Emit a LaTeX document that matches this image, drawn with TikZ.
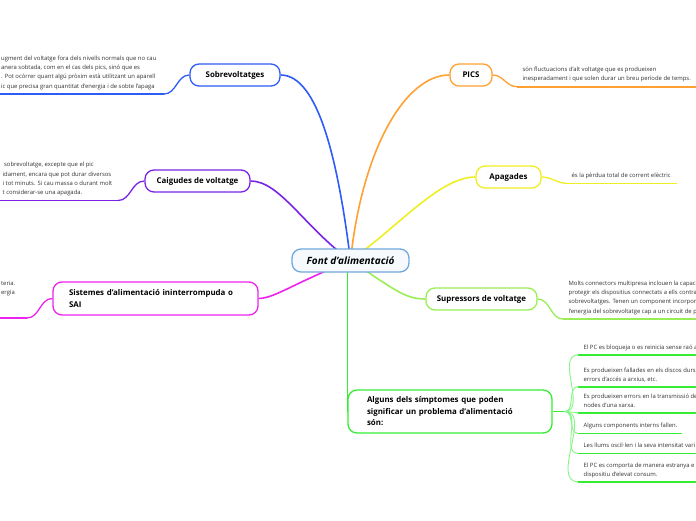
\documentclass[tikz,border=0pt]{standalone}
\usepackage{fontspec}
\setmainfont{Open Sans}
\usetikzlibrary{positioning, backgrounds}
\definecolor{colorArrel}{HTML}{6FA8DC}
\definecolor{fonsArrel}{HTML}{F6FAFE}
\definecolor{colorSobre}{HTML}{2E5CF6}
\definecolor{colorCaig}{HTML}{7A22E6}
\definecolor{colorSai}{HTML}{EE22EE}
\definecolor{colorPics}{HTML}{FFA033}
\definecolor{colorApag}{HTML}{EEEE22}
\definecolor{colorSupr}{HTML}{99EE55}
\definecolor{colorSimp}{HTML}{33EE33}
\definecolor{textNota}{HTML}{333333}

\begin{document}
\begin{tikzpicture}[x=1pt, y=-1pt, line width=1.3pt,
        arrel/.style={draw=colorArrel, fill=fonsArrel, rounded corners=9pt,
            minimum width=117pt, minimum height=23pt,
            font=\bfseries\itshape\fontsize{10}{12}\selectfont},
        tema/.style={fill=white, rounded corners=9pt, minimum height=22pt, inner xsep=5pt,
            font=\bfseries\fontsize{7.9}{11.5}\selectfont},
        nota/.style={inner sep=0pt, align=left, text=textNota,
            font=\fontsize{5.9}{9.2}\selectfont, execute at end node=\strut},
        br/.style={line width=1.6pt},
        ratlla/.style={line width=1.6pt},
        brot/.style={colorSimp!60, line width=0.9pt}]
        \path[use as bounding box, clip] (0,0) rectangle (696,520);
        % nodes
        \node[arrel] (font) at (350.5,260.5) {Font d'alimentació};
        \node[tema, draw=colorSobre, minimum width=90pt] (sobre) at (235,75) {Sobrevoltatges};
        \node[tema, draw=colorCaig, minimum width=105pt] (caig) at (197.5,181) {Caigudes de voltatge};
        \node[tema, draw=colorSai, minimum height=33pt, text width=173pt, inner xsep=16pt, align=left]
            (sai) at (155.5,298.5) {Sistemes d'alimentació ininterrompuda o\\SAI};
        \node[tema, draw=colorPics, minimum width=42pt] (pics) at (471,75) {PICS};
        \node[tema, draw=colorApag, minimum width=65pt] (apag) at (508.5,177) {Apagades};
        \node[tema, draw=colorSupr, minimum width=111pt] (supr) at (481.5,299) {Supressors de voltatge};
        \node[tema, draw=colorSimp, minimum height=43pt, text width=166pt, inner xsep=19pt, align=left]
            (simp) at (450,411.5) {Alguns dels símptomes que poden\\significar un problema d'alimentació\\són:};
        % branques
        \begin{scope}[on background layer]
            \draw[br, colorSobre] (font.center) .. controls (338,160) and (318,75) .. (sobre.east);
            \draw[br, colorCaig] (font.center) .. controls (305,228) and (280,181) .. (caig.east);
            \draw[br, colorPics] (font.center) .. controls (362,150) and (405,75) .. (pics.west);
            \draw[br, colorApag] (font.center) .. controls (400,225) and (440,177) .. (apag.west);
            \draw[br, colorSai] (font.center) .. controls (290,285) and (275,298) .. (sai.east);
            \draw[br, colorSupr] (font.center) .. controls (395,290) and (405,299) .. (supr.west);
            \draw[br, colorSimp] (simp.west |- font.center) -- (simp.west);
        \end{scope}
        % notes esquerra
        \coordinate (uSobre) at (164,94);
        \draw[colorSobre] (sobre.west) to[out=180,in=0] (uSobre);
        \draw[colorSobre, ratlla] (uSobre) -- ++(-170,0);
        \node[nota, anchor=south west] (tSobre) at (0.5,91.5) {ugment del voltatge fora dels nivells normals que no cau\\anera sobtada, com en el cas dels pics, sinó que es\\. Pot ocórrer quant algú pròxim està utilitzant un aparell\\ic que precisa gran quantitat d'energia i de sobte l'apaga};
        \coordinate (uCaig) at (118,200.5);
        \draw[colorCaig] (caig.west) to[out=180,in=0] (uCaig);
        \draw[colorCaig, ratlla] (uCaig) -- ++(-125,0);
        \node[nota, anchor=south west] (tCaig) at (2,198) {\ sobrevoltatge, excepte que el pic\\idament, encara que pot durar diversos\\i tot minuts. Si cau massa o durant molt\\t considerar-se una apagada.};
        \coordinate (uSai) at (27,318);
        \draw[colorSai] (sai.west) to[out=180,in=0] (uSai);
        \draw[colorSai, ratlla] (uSai) -- ++(-35,0);
        \node[nota, anchor=south west] (tSai) at (0.5,298.3) {teria.\\ergia};
        % notes dreta
        \coordinate (uPics) at (517,86.7);
        \draw[colorPics] (pics.east) to[out=0,in=180] (uPics);
        \draw[colorPics, ratlla] (uPics) -- ++(185,0);
        \node[nota, above right=3pt and 5pt of uPics] (tPics) {són fluctuacions d'alt voltatge que es produeixen\\inesperadament i que solen durar un breu període de temps.};
        \coordinate (uApag) at (567,183.3);
        \draw[colorApag] (apag.east) to[out=0,in=180] (uApag);
        \draw[colorApag, ratlla] (uApag) -- ++(110,0);
        \node[nota, above right=2.5pt and 4pt of uApag] (tApag) {és la pèrdua total de corrent elèctric};
        \coordinate (uSupr) at (563,319);
        \draw[colorSupr] (supr.east) to[out=0,in=180] (uSupr);
        \draw[colorSupr, ratlla] (uSupr) -- ++(140,0);
        \node[nota, above right=2.5pt and 5pt of uSupr] (tSupr) {Molts connectors multipresa inclouen la capac\\protegir els dispositius connectats a ells contra\\sobrevoltatges. Tenen un component incorpor\\l'energia del sobrevoltatge cap a un circuit de p};
        % símptomes
        \coordinate[right=12pt of simp] (nSimp);
        \coordinate (s1) at (578,355); \coordinate (s2) at (578,386.7); \coordinate (s3) at (578,412.7);
        \coordinate (s4) at (578,433.3); \coordinate (s5) at (578,453.3); \coordinate (s6) at (578,481.7);
        \draw[colorSimp] (simp.east) -- (nSimp);
        \draw[brot] (nSimp) to[out=0,in=180] (s1); \draw[brot] (nSimp) to[out=0,in=180] (s2);
        \draw[brot] (nSimp) to[out=0,in=180] (s3); \draw[brot] (nSimp) to[out=0,in=180] (s4);
        \draw[brot] (nSimp) to[out=0,in=180] (s5); \draw[brot] (nSimp) to[out=0,in=180] (s6);
        \draw[colorSimp, ratlla] (s1) -- ++(125,0); \draw[colorSimp, ratlla] (s2) -- ++(125,0);
        \draw[colorSimp, ratlla] (s3) -- ++(125,0); \draw[colorSimp, ratlla] (s4) -- ++(104,0);
        \draw[colorSimp, ratlla] (s5) -- ++(125,0); \draw[colorSimp, ratlla] (s6) -- ++(125,0);
        \node[nota, above right=2pt and 5pt of s1] (t1) {El PC es bloqueja o es reinicia sense raó a};
        \node[nota, above right=2pt and 5pt of s2] (t2) {Es produeixen fallades en els discos durs\\errors d'accés a arxius, etc.};
        \node[nota, above right=2pt and 5pt of s3] (t3) {Es produeixen errors en la transmissió de\\nodes d'una xarxa.};
        \node[nota, above right=2pt and 5pt of s4] (t4) {Alguns components interns fallen.};
        \node[nota, above right=2pt and 5pt of s5] (t5) {Les llums oscil·len i la seva intensitat vari};
        \node[nota, above right=2pt and 5pt of s6] (t6) {El PC es comporta de manera estranya e\\dispositiu d'elevat consum.};
    \end{tikzpicture}
\end{document}
